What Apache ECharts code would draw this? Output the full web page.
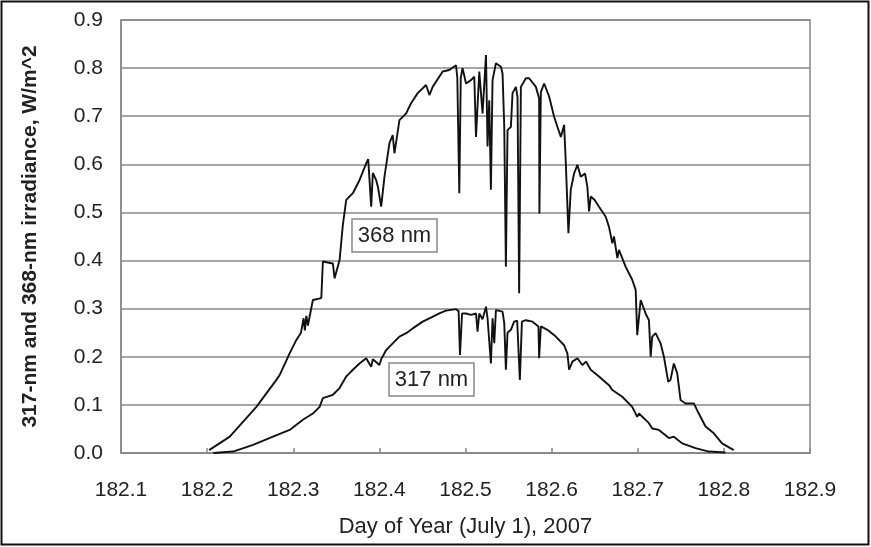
<!DOCTYPE html>
<html>
<head>
<meta charset="utf-8">
<script src="https://cdn.jsdelivr.net/npm/echarts@6/dist/echarts.min.js"></script>
<style>
html,body{margin:0;padding:0;background:#fff;}
#chart{width:871px;height:547px;}
</style>
</head>
<body>
<div id="chart"></div>
<script>
// ---- data ----
const day368 = [182.2023,182.2263,182.2572,182.2688,182.2804,182.2842,182.2958,182.3036,182.309,182.312,182.3135,182.3152,182.317,182.3228,182.3326,182.3344,182.340,182.346,182.348,182.3538,182.3576,182.3615,182.3692,182.3769,182.3847,182.387,182.3905,182.3924,182.3963,182.3983,182.4021,182.4059,182.4117,182.4155,182.4175,182.4233,182.4311,182.4368,182.4445,182.4542,182.4581,182.4619,182.4735,182.4812,182.489,182.4905,182.4928,182.4945,182.4966,182.5006,182.5064,182.5102,182.5122,182.516,182.5198,182.5238,182.5256,182.5276,182.5295,182.5314,182.5353,182.5411,182.543,182.545,182.5469,182.5488,182.5527,182.5546,182.5585,182.5604,182.5623,182.5643,182.5701,182.5739,182.5817,182.5855,182.5858,182.5875,182.5913,182.5971,182.6029,182.6067,182.6107,182.6145,182.6165,182.6175,182.6195,182.6222,182.6261,182.6299,182.6338,182.6388,182.6415,182.6435,182.6454,182.650,182.655,182.6628,182.6666,182.6705,182.6724,182.6763,182.6782,182.686,182.6936,182.6976,182.6994,182.7034,182.705,182.7091,182.713,182.715,182.7168,182.7207,182.7265,182.7304,182.7354,182.738,182.7419,182.7458,182.7497,182.7555,182.7651,182.7709,182.7787,182.7883,182.7979,182.8115];
const irr368 = [0.006,0.034,0.096,0.124,0.152,0.162,0.207,0.235,0.250,0.280,0.255,0.285,0.265,0.318,0.322,0.398,0.396,0.394,0.363,0.401,0.474,0.526,0.540,0.567,0.602,0.611,0.512,0.582,0.567,0.553,0.512,0.574,0.644,0.661,0.623,0.692,0.706,0.727,0.748,0.765,0.744,0.761,0.793,0.796,0.806,0.780,0.540,0.780,0.800,0.768,0.775,0.782,0.657,0.793,0.706,0.827,0.637,0.733,0.547,0.775,0.810,0.803,0.789,0.678,0.387,0.671,0.678,0.748,0.761,0.740,0.332,0.761,0.779,0.779,0.761,0.737,0.498,0.750,0.768,0.741,0.699,0.678,0.657,0.682,0.602,0.600,0.457,0.547,0.581,0.599,0.574,0.581,0.553,0.502,0.533,0.526,0.512,0.491,0.470,0.436,0.450,0.405,0.422,0.387,0.360,0.339,0.245,0.318,0.316,0.290,0.276,0.200,0.242,0.249,0.228,0.200,0.148,0.152,0.186,0.166,0.110,0.103,0.103,0.082,0.055,0.041,0.020,0.006];

const day317 = [182.207,182.2301,182.2533,182.2765,182.2958,182.3112,182.3228,182.3306,182.3344,182.346,182.3538,182.3615,182.3654,182.3692,182.3769,182.3847,182.3905,182.3924,182.4001,182.4021,182.4079,182.4155,182.4233,182.4311,182.4387,182.4503,182.4581,182.4696,182.4774,182.489,182.492,182.4936,182.496,182.5006,182.5064,182.5122,182.514,182.516,182.5198,182.5238,182.5256,182.5295,182.5314,182.5334,182.5353,182.543,182.545,182.5469,182.5488,182.5527,182.5565,182.560,182.5631,182.5655,182.5701,182.5778,182.5847,182.5855,182.5875,182.5951,182.6049,182.6145,182.6183,182.6203,182.6241,182.6299,182.6357,182.640,182.6454,182.655,182.6666,182.6705,182.682,182.6936,182.6994,182.7014,182.713,182.7168,182.7246,182.7362,182.7419,182.7516,182.7671,182.7825,182.8019];
const irr317 = [0.000,0.003,0.017,0.034,0.048,0.069,0.082,0.096,0.114,0.121,0.135,0.159,0.166,0.173,0.186,0.197,0.179,0.195,0.183,0.195,0.214,0.228,0.242,0.249,0.259,0.273,0.280,0.290,0.296,0.299,0.295,0.204,0.290,0.290,0.287,0.290,0.252,0.290,0.278,0.304,0.280,0.186,0.280,0.228,0.297,0.294,0.270,0.173,0.250,0.256,0.273,0.275,0.152,0.273,0.276,0.273,0.263,0.197,0.263,0.256,0.242,0.224,0.207,0.173,0.190,0.197,0.183,0.190,0.173,0.159,0.141,0.131,0.117,0.096,0.075,0.082,0.062,0.051,0.048,0.031,0.034,0.020,0.010,0.003,0.001];

const xTitle = 'Day of Year (July 1), 2007';
const yTitle = '317-nm and 368-nm irradiance, W/m^2';
const label368 = '368 nm';
const label317 = '317 nm';

const chart = echarts.init(document.getElementById('chart'), null, {renderer:'canvas'});
const FONT = 'Liberation Sans, Arial, sans-serif';
const zip = (xs, ys) => xs.map((x, i) => [x, ys[i]]);

chart.setOption({
  animation: false,
  backgroundColor: '#fff',
  grid: {left: 121, right: 61, top: 20, bottom: 94, show: true, borderColor: '#888', borderWidth: 1.5},
  xAxis: {
    type: 'value', min: 182.1, max: 182.9, interval: 0.1,
    name: xTitle, nameLocation: 'middle', nameGap: 63,
    nameTextStyle: {fontFamily: FONT, fontSize: 22, color: '#222'},
    axisLine: {show: true, onZero: false, lineStyle: {color: '#888', width: 1.5}},
    axisTick: {show: true, inside: true, length: 5, lineStyle: {color: '#888', width: 1.5}},
    axisLabel: {fontFamily: FONT, fontSize: 21, color: '#222', margin: 27, formatter: v => v.toFixed(1)},
    splitLine: {show: false}
  },
  yAxis: {
    type: 'value', min: 0, max: 0.9, interval: 0.1,
    name: yTitle, nameLocation: 'middle', nameGap: 80, nameRotate: 90,
    nameTextStyle: {fontFamily: FONT, fontSize: 21, fontWeight: 'bold', color: '#222'},
    axisLine: {show: true, lineStyle: {color: '#888', width: 1.5}},
    axisTick: {show: false},
    axisLabel: {fontFamily: FONT, fontSize: 21, color: '#222', margin: 18, formatter: v => v.toFixed(1)},
    splitLine: {show: true, lineStyle: {color: '#888', width: 1.5}}
  },
  series: [
    {type: 'line', name: '368 nm', data: zip(day368, irr368), showSymbol: false, symbol: 'none',
     lineStyle: {color: '#111', width: 1.9}, z: 3},
    {type: 'line', name: '317 nm', data: zip(day317, irr317), showSymbol: false, symbol: 'none',
     lineStyle: {color: '#111', width: 1.9}, z: 3}
  ],
  graphic: [
    {type: 'rect', shape: {x: 1.5, y: 1.5, width: 867, height: 543}, style: {fill: 'none', stroke: '#111', lineWidth: 2}, z: 100},
    {type: 'rect', shape: {x: 352, y: 219, width: 85, height: 33}, style: {fill: '#fff', stroke: '#888', lineWidth: 1.5}, z: 50},
    {type: 'text', x: 394.5, y: 236, style: {text: label368, font: '22px ' + FONT, fill: '#222', align: 'center', verticalAlign: 'middle'}, z: 51},
    {type: 'rect', shape: {x: 389, y: 363, width: 85, height: 33}, style: {fill: '#fff', stroke: '#888', lineWidth: 1.5}, z: 50},
    {type: 'text', x: 431.5, y: 380, style: {text: label317, font: '22px ' + FONT, fill: '#222', align: 'center', verticalAlign: 'middle'}, z: 51}
  ]
});
</script>
</body>
</html>
